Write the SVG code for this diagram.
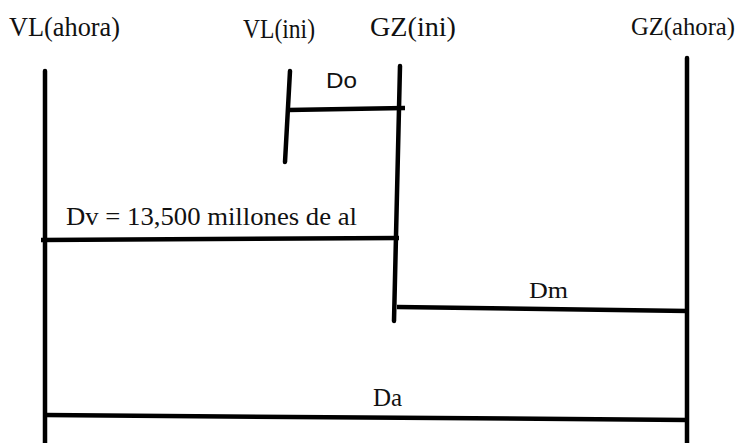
<svg xmlns="http://www.w3.org/2000/svg" width="745" height="443" viewBox="0 0 745 443">
<style>
.t{fill:#111;font-family:"Liberation Serif","Times New Roman",serif;}
.h{font-size:28px;}
.v{stroke:#000;stroke-width:4.5;stroke-linecap:round;fill:none;}
.c{stroke:#000;stroke-width:4.5;stroke-linecap:butt;fill:none;}
</style>
<rect width="745" height="443" fill="#fff"/>
<g id="vl-ahora">
<text class="t h" x="9" y="36" textLength="111" lengthAdjust="spacingAndGlyphs">VL(ahora)</text>
<line class="v" x1="45" y1="71" x2="45" y2="445"/>
</g>
<g id="vl-ini">
<text class="t h" x="243" y="38" textLength="72" lengthAdjust="spacingAndGlyphs">VL(ini)</text>
<line class="v" x1="290" y1="71" x2="285" y2="162"/>
</g>
<g id="gz-ini">
<text class="t h" x="370" y="36" textLength="86" lengthAdjust="spacingAndGlyphs">GZ(ini)</text>
<line class="v" x1="400" y1="66" x2="394" y2="321"/>
</g>
<g id="gz-ahora">
<text class="t" font-size="26" x="631" y="35" textLength="104" lengthAdjust="spacingAndGlyphs">GZ(ahora)</text>
<line class="v" x1="687" y1="58" x2="687" y2="445"/>
</g>
<g id="connectors">
<line class="c" x1="288" y1="110" x2="405" y2="108"/>
<text fill="#111" font-family="Liberation Sans, Arial, sans-serif" font-size="22" x="326" y="88" textLength="31" lengthAdjust="spacingAndGlyphs">Do</text>
<line class="c" x1="41" y1="240" x2="399" y2="238"/>
<text class="t" font-size="25" x="66" y="225" textLength="291" lengthAdjust="spacingAndGlyphs">Dv = 13,500 millones de al</text>
<line class="c" x1="397" y1="307" x2="688" y2="311"/>
<text class="t" font-size="24" x="529" y="298" textLength="39" lengthAdjust="spacingAndGlyphs">Dm</text>
<line class="c" x1="45" y1="415" x2="688" y2="420"/>
<text class="t" font-size="25" x="373" y="406">Da</text>
</g>
</svg>
